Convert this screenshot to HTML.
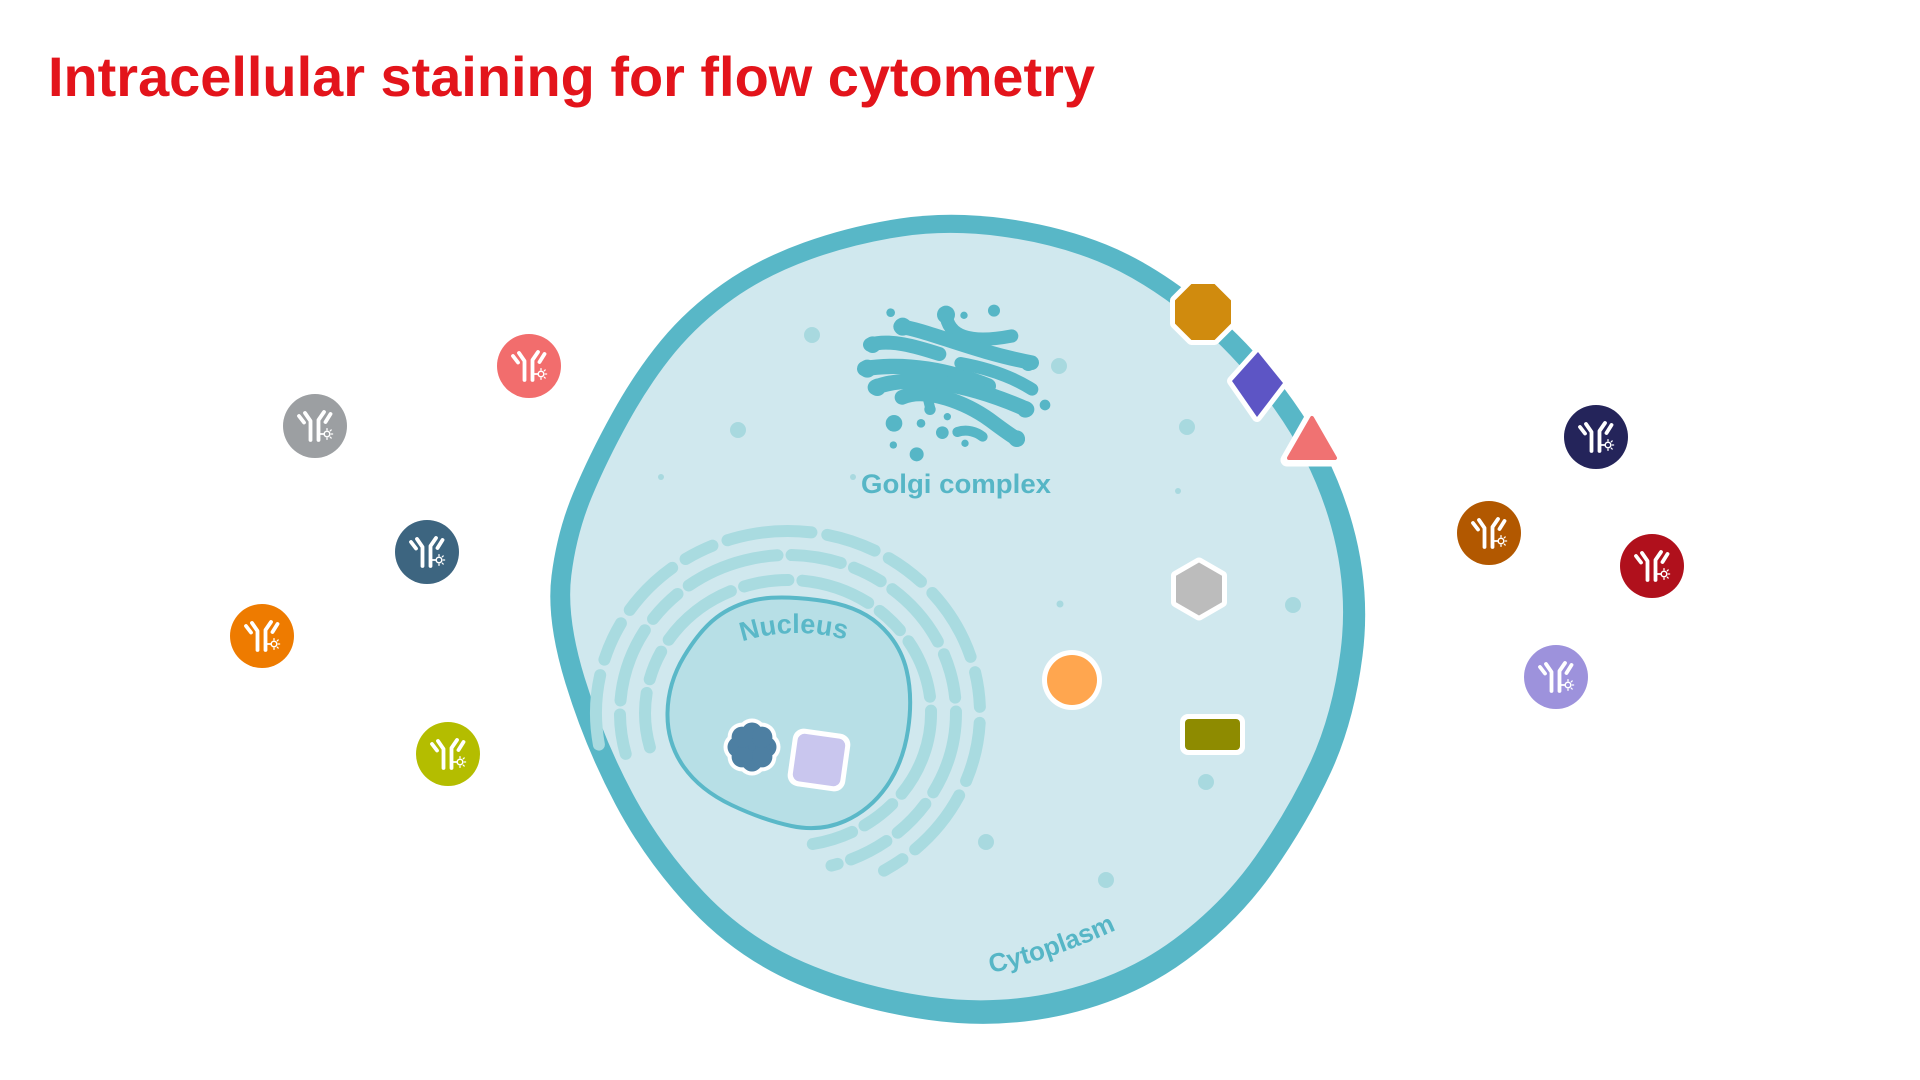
<!DOCTYPE html>
<html>
<head>
<meta charset="utf-8">
<style>
  html,body{margin:0;padding:0;background:#fff;}
  body{width:1920px;height:1080px;overflow:hidden;}
  svg{display:block;}
</style>
</head>
<body>
<svg width="1920" height="1080" viewBox="0 0 1920 1080" xmlns="http://www.w3.org/2000/svg">
  <defs>
    <path id="cell" d="M900,218.5 Q950,211 1005,218.5 Q1060,226 1106,244.5 Q1152,263 1202,303 Q1252,343 1293,400.5 Q1334,458 1352.5,524 Q1371,590 1362.5,656 Q1354,722 1331,772 Q1308,822 1273,872 Q1238,922 1186.5,960 Q1135,998 1067.5,1014 Q1000,1030 929,1020 Q858,1010 797.5,984 Q737,958 691.5,910 Q646,862 615.5,804.5 Q585,747 565.5,683.5 Q546,620 551.5,576 Q557,532 573,493.5 Q589,455 612,413.5 Q635,372 661,340.5 Q687,309 722.5,284 Q758,259 804,242.5 Q850,226 900,218.5 Z"/>
    <g id="ab" fill="none" stroke="#fff" stroke-linecap="round" stroke-linejoin="round">
      <path d="M-16,-10 L-11,-3.5" stroke-width="3.8"/>
      <path d="M-10,-13 L-4.5,-5 L-4.5,14" stroke-width="3.8"/>
      <path d="M9,-14 L3.5,-6 L3.5,14" stroke-width="3.8"/>
      <path d="M15.5,-12 L10.5,-4" stroke-width="3.8"/>
      <path d="M4,8 H9" stroke-width="1.8"/>
      <circle cx="12" cy="8" r="2.8" stroke-width="1.5"/>
      <path d="M12,2.6 V3.9 M16.2,3.9 L15.3,4.8 M17.6,8 H16.3 M16.2,12.1 L15.3,11.2 M12,13.4 V12.1" stroke-width="1.3"/>
    </g>
  </defs>

  <rect width="1920" height="1080" fill="#ffffff"/>

  <!-- Title -->
  <text x="48" y="96" font-family="'Liberation Sans', Arial, sans-serif" font-weight="bold" font-size="56" fill="#e3141b" textLength="1047" lengthAdjust="spacingAndGlyphs">Intracellular staining for flow cytometry</text>

  <!-- Cell -->
  <use href="#cell" fill="#58b7c7"/>
  <use href="#cell" fill="#d0e8ee" transform="matrix(0.9485,0,0,0.9485,48.2,29.2)"/>

  <!-- Cytoplasm dots -->
  <g fill="#a8d9df">
    <circle cx="812" cy="335" r="8"/>
    <circle cx="738" cy="430" r="8"/>
    <circle cx="661" cy="477" r="3"/>
    <circle cx="1059" cy="366" r="7.5"/>
    <circle cx="1187" cy="427" r="8"/>
    <circle cx="1178" cy="491" r="3"/>
    <circle cx="853" cy="477" r="3"/>
    <circle cx="1060" cy="604" r="3.5"/>
    <circle cx="1293" cy="605" r="8"/>
    <circle cx="1206" cy="782" r="8"/>
    <circle cx="986" cy="842" r="8"/>
    <circle cx="1106" cy="880" r="8"/>
  </g>

  <!-- Endoplasmic reticulum -->
  <g fill="none" stroke="#a9dbe0" stroke-width="12" stroke-linecap="round">
    <path d="M649.9,747.4 A143,133 0 1 1 812.8,844" stroke-dasharray="55 14 30 14 80 14 45 14 70 14 28 14 60 14 90 14 35 14 60 14"/>
    <path d="M625.7,753.9 A168,158 0 1 1 831.5,865.6" stroke-dasharray="40 14 75 14 35 14 95 14 50 14 30 14 70 14 45 14 85 14 40 14"/>
    <path d="M598.9,744.6 A192,182 0 1 1 884,870.6" stroke-dasharray="70 16 40 16 60 16 30 16 85 16 50 16 40 16 75 16 35 16 60 16"/>
  </g>

  <!-- Nucleus -->
  <path d="M755,600 Q777,595 817,600 Q857,605 878.5,624 Q900,643 906.5,670 Q913,697 908,730 Q903,763 886.5,786.5 Q870,810 845,821 Q820,832 791.5,826 Q763,820 731.5,805 Q700,790 683.5,766.5 Q667,743 667.5,713 Q668,683 684,656.5 Q700,630 716.5,617.5 Q733,605 755,600 Z" fill="#b7dfe6" stroke="#5ab8c8" stroke-width="4"/>
  <path id="nucArc" d="M738,643 A180,180 0 0 1 850,641" fill="none"/>
  <text font-family="'Liberation Sans', Arial, sans-serif" font-weight="bold" font-size="27" fill="#5ab8c8"><textPath href="#nucArc" startOffset="50%" text-anchor="middle">Nucleus</textPath></text>

  <!-- Flower (inside nucleus) -->
  <g transform="translate(752,747)">
    <g fill="#ffffff">
      <circle r="20"/>
      <circle cx="14" cy="0" r="14.5"/><circle cx="-14" cy="0" r="14.5"/>
      <circle cx="0" cy="14" r="14.5"/><circle cx="0" cy="-14" r="14.5"/>
      <circle cx="9.9" cy="9.9" r="14.5"/><circle cx="-9.9" cy="9.9" r="14.5"/>
      <circle cx="9.9" cy="-9.9" r="14.5"/><circle cx="-9.9" cy="-9.9" r="14.5"/>
    </g>
    <g fill="#4d7fa2">
      <circle r="16"/>
      <circle cx="14" cy="0" r="10.5"/><circle cx="-14" cy="0" r="10.5"/>
      <circle cx="0" cy="14" r="10.5"/><circle cx="0" cy="-14" r="10.5"/>
      <circle cx="9.9" cy="9.9" r="10.5"/><circle cx="-9.9" cy="9.9" r="10.5"/>
      <circle cx="9.9" cy="-9.9" r="10.5"/><circle cx="-9.9" cy="-9.9" r="10.5"/>
    </g>
  </g>
  <!-- Lavender square -->
  <g transform="translate(819,760) rotate(8)">
    <rect x="-29" y="-29" width="58" height="58" rx="11" fill="#ffffff"/>
    <rect x="-24" y="-24" width="48" height="48" rx="7" fill="#c9c6ee"/>
  </g>

  <!-- Golgi complex -->
  <g transform="translate(840,280) scale(0.33333)" fill="#56b6c6" stroke="#56b6c6" stroke-linecap="round">
    <g fill="none">
      <path d="M318,100 C322,170 390,192 515,168" stroke-width="40"/>
      <path d="M182,140 C260,150 400,215 575,248" stroke-width="44"/>
      <path d="M90,194 C150,176 230,200 298,222" stroke-width="42"/>
      <path d="M74,266 C200,246 330,272 445,318" stroke-width="46"/>
      <path d="M362,250 C450,266 520,292 576,328" stroke-width="38"/>
      <path d="M106,322 C200,286 360,300 560,388" stroke-width="46"/>
      <path d="M186,352 C260,320 380,370 450,420 C490,450 515,468 533,478" stroke-width="44"/>
      <path d="M352,456 C382,446 410,456 428,470" stroke-width="30"/>
      <path d="M262,350 L270,382" stroke-width="30"/>
    </g>
    <g stroke="none">
      <circle cx="318" cy="104" r="27"/>
      <circle cx="188" cy="140" r="27"/>
      <circle cx="98" cy="194" r="25"/>
      <circle cx="82" cy="266" r="27"/>
      <circle cx="112" cy="322" r="26"/>
      <circle cx="565" cy="250" r="23"/>
      <circle cx="556" cy="388" r="25"/>
      <circle cx="530" cy="476" r="25"/>
      <circle cx="270" cy="388" r="17"/>
      <circle cx="152" cy="98" r="13"/>
      <circle cx="372" cy="106" r="11"/>
      <circle cx="462" cy="92" r="18"/>
      <circle cx="615" cy="375" r="16"/>
      <circle cx="162" cy="430" r="25"/>
      <circle cx="243" cy="430" r="13"/>
      <circle cx="322" cy="410" r="11"/>
      <circle cx="307" cy="458" r="19"/>
      <circle cx="375" cy="490" r="11"/>
      <circle cx="160" cy="495" r="11"/>
      <circle cx="230" cy="523" r="21"/>
    </g>
  </g>
  <circle cx="1059" cy="366" r="8" fill="#a8d9df"/>
  <text x="861" y="493" font-family="'Liberation Sans', Arial, sans-serif" font-weight="bold" font-size="27" fill="#56b6c6" textLength="190" lengthAdjust="spacingAndGlyphs">Golgi complex</text>

  <!-- Cytoplasm label -->
  <path id="cytoArc" d="M991,973 Q1058,958 1124,926" fill="none"/>
  <text font-family="'Liberation Sans', Arial, sans-serif" font-weight="bold" font-size="26" fill="#56b6c6"><textPath href="#cytoArc">Cytoplasm</textPath></text>

  <!-- Cytoplasmic molecules -->
  <polygon points="1199,562.5 1222,575.75 1222,602.25 1199,615.5 1176,602.25 1176,575.75" fill="#bcbcbc" stroke="#ffffff" stroke-width="10" stroke-linejoin="round" paint-order="stroke"/>
  <circle cx="1072" cy="680" r="30" fill="#ffffff"/>
  <circle cx="1072" cy="680" r="25" fill="#ffa64f"/>
  <rect x="1180" y="714" width="65" height="41" rx="8" fill="#ffffff"/>
  <rect x="1185" y="719" width="55" height="31" rx="4" fill="#8e8b00"/>

  <!-- Membrane receptors -->
  <polygon points="1231,323.6 1214.6,340 1191.4,340 1175,323.6 1175,300.4 1191.4,284 1214.6,284 1231,300.4" fill="#d08b0e" stroke="#ffffff" stroke-width="10" stroke-linejoin="round" paint-order="stroke"/>
  <polygon points="1258,352 1283,383 1257,417 1232,381" fill="#5d55c5" stroke="#ffffff" stroke-width="10" stroke-linejoin="round" paint-order="stroke"/>
  <polygon points="1312,416 1337,460 1287,460" fill="#ffffff" stroke="#ffffff" stroke-width="13" stroke-linejoin="round"/>
  <polygon points="1312,418 1335,458 1289,458" fill="#f07272" stroke="#f07272" stroke-width="4" stroke-linejoin="round"/>

  <!-- Antibodies -->
  <g>
    <circle cx="529" cy="366" r="32" fill="#f26d6d"/><use href="#ab" x="529" y="366"/>
    <circle cx="315" cy="426" r="32" fill="#9c9fa2"/><use href="#ab" x="315" y="426"/>
    <circle cx="427" cy="552" r="32" fill="#3d6580"/><use href="#ab" x="427" y="552"/>
    <circle cx="262" cy="636" r="32" fill="#ee7b00"/><use href="#ab" x="262" y="636"/>
    <circle cx="448" cy="754" r="32" fill="#b4bd00"/><use href="#ab" x="448" y="754"/>
    <circle cx="1596" cy="437" r="32" fill="#24245a"/><use href="#ab" x="1596" y="437"/>
    <circle cx="1489" cy="533" r="32" fill="#b25800"/><use href="#ab" x="1489" y="533"/>
    <circle cx="1652" cy="566" r="32" fill="#b0101c"/><use href="#ab" x="1652" y="566"/>
    <circle cx="1556" cy="677" r="32" fill="#9d92dc"/><use href="#ab" x="1556" y="677"/>
  </g>
</svg>
</body>
</html>
